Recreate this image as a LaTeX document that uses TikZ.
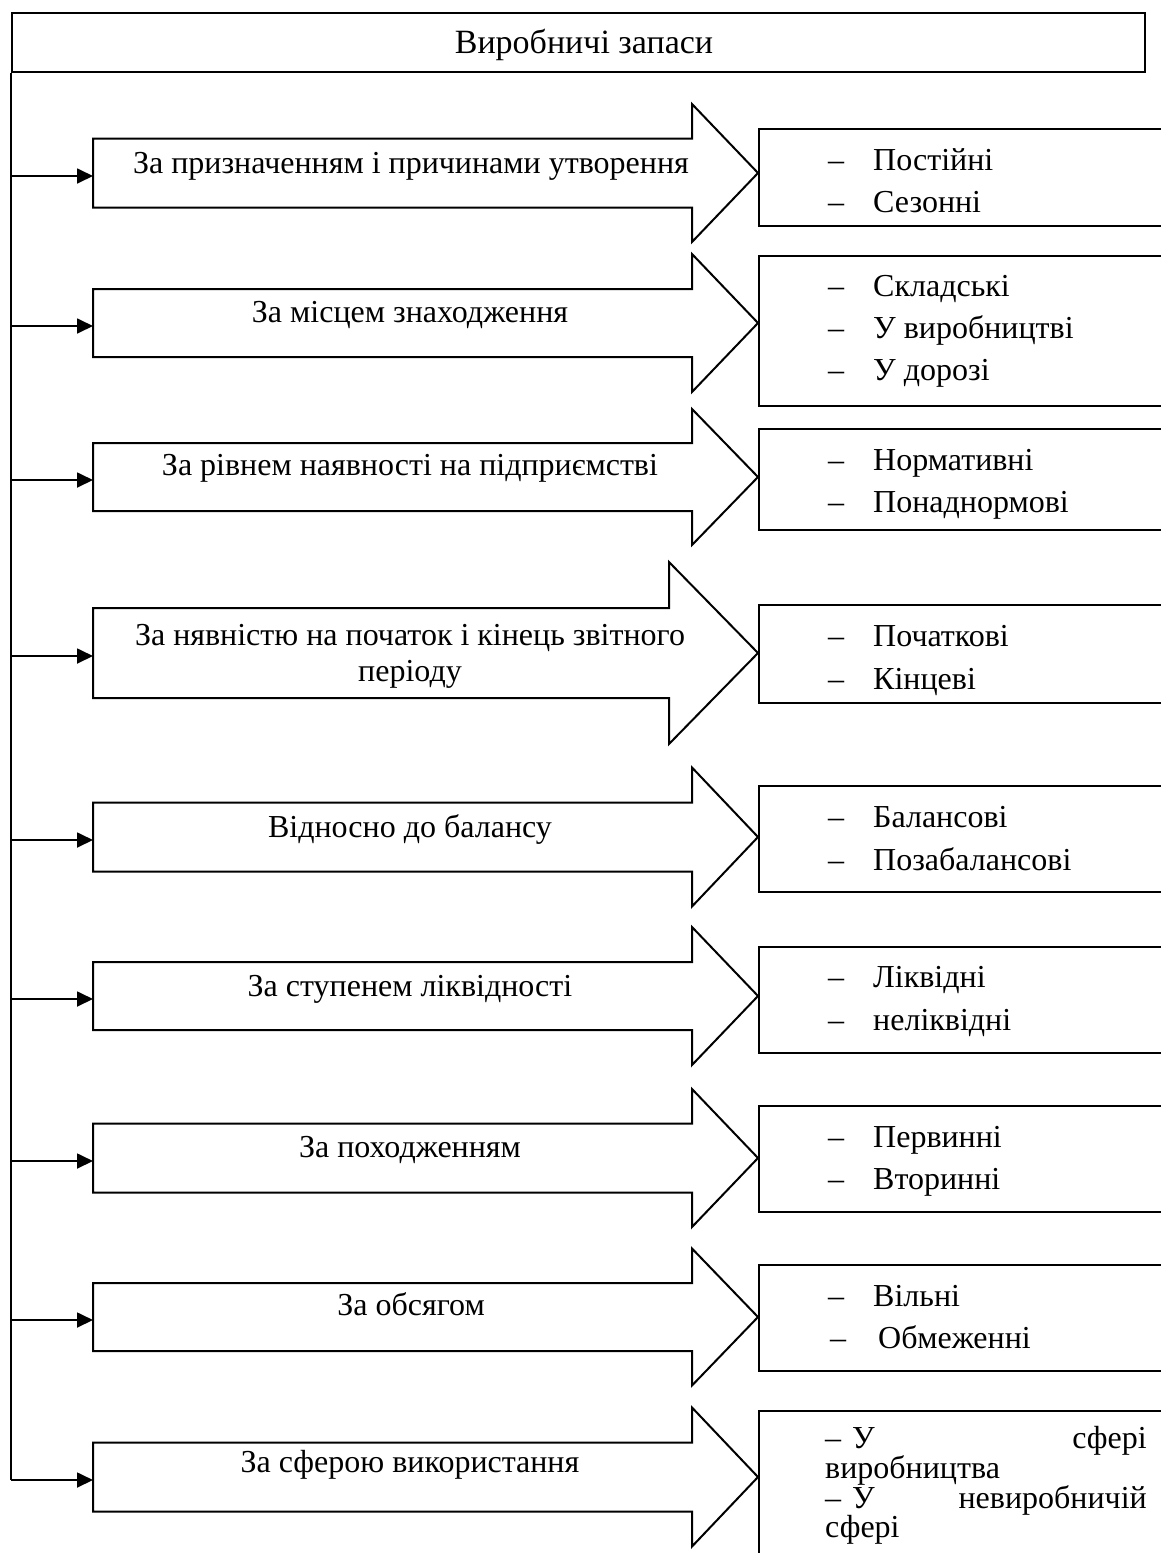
\documentclass[tikz,border=0pt]{standalone}
\usepackage{fontspec}
\setmainfont{Liberation Serif}
\usetikzlibrary{arrows.meta}
\newcommand\blockarrow[5]{% name, tip y, body half, head half, head x
  \draw[box] (93,#2-#3) -- (#5,#2-#3) -- (#5,#2-#4) -- (758,#2) -- (#5,#2+#4) -- (#5,#2+#3) -- (93,#2+#3) -- cycle;
  \coordinate (#1) at (93,#2+3);
  \coordinate (#1t) at (11,#2+3);
}
\begin{document}
\begin{tikzpicture}[x=1pt,y=-1pt,
  box/.style={draw, line width=2pt},
  txt/.style={font=\fontsize{32}{36}\selectfont, inner sep=0pt},
  lbl/.style={txt, anchor=base},
  item/.style={txt, anchor=base west},
  tight/.style={text height=22pt, text depth=7pt},
  feed/.style={line width=1.8pt, -{Triangle[length=16pt,width=15pt]}},
  trunk/.style={line width=1.2pt},
  rbox/.style={box, anchor=north west, minimum width=430pt, inner sep=0pt}]
\useasboundingbox (0,0) rectangle (1160,1553);
\fill[white] (0,0) rectangle (1160,1553);

% top box
\node[box, txt, minimum width=1133pt, minimum height=59pt, anchor=north west] (top) at (11,12) {};
\node[lbl, font=\fontsize{34}{38}\selectfont] (toplbl) at (584,53) {Виробничі запаси};

% block arrows
\blockarrow{a1}{173}{34.5}{69}{692}
\blockarrow{a2}{323}{34}{69}{692}
\blockarrow{a3}{477}{34}{68}{692}
\blockarrow{a4}{653}{45}{91}{669}
\blockarrow{a5}{837}{34.5}{69.5}{692}
\blockarrow{a6}{996}{34}{69}{692}
\blockarrow{a7}{1158}{34.5}{69}{692}
\blockarrow{a8}{1317}{34}{68.5}{692}
\blockarrow{a9}{1477}{34.5}{69.5}{692}

% trunk and feeders
\draw[trunk] (top.south west) -- (a9t);
\foreach \k in {1,...,9}{\draw[feed] (a\k t) -- (a\k);}

% arrow labels
\node[lbl] (l1) at (411,173) {За призначенням і причинами утворення};
\node[lbl] (l2) at (410,322) {За місцем знаходження};
\node[lbl] (l3) at (410,475) {За рівнем наявності на підприємстві};
\node[lbl] (l4a) at (410,645) {За нявністю на початок і кінець звітного};
\node[lbl] (l4b) at (410,681) {періоду};
\node[lbl] (l5) at (410,837) {Відносно до балансу};
\node[lbl] (l6) at (410,996) {За ступенем ліквідності};
\node[lbl] (l7) at (410,1157) {За походженням};
\node[lbl] (l8) at (411,1315) {За обсягом};
\node[lbl] (l9) at (410,1472) {За сферою використання};

% right boxes
\node[rbox, minimum height=97pt] (r1) at (758,128) {};
\node[rbox, minimum height=150pt] (r2) at (758,255) {};
\node[rbox, minimum height=101pt] (r3) at (758,428) {};
\node[rbox, minimum height=98pt] (r4) at (758,604) {};
\node[rbox, minimum height=106pt] (r5) at (758,785) {};
\node[rbox, minimum height=106pt] (r6) at (758,946) {};
\node[rbox, minimum height=106pt] (r7) at (758,1105) {};
\node[rbox, minimum height=106pt] (r8) at (758,1264) {};
\node[rbox, minimum height=160pt] (r9) at (758,1410) {};

% items
\foreach \y/\t [count=\i] in {170/Постійні, 212/Сезонні,
  296/Складські, 338/У виробництві, 380/У дорозі,
  470/Нормативні, 512/Понаднормові,
  646/Початкові, 689/Кінцеві,
  827/Балансові, 870/Позабалансові,
  987/Ліквідні, 1030/неліквідні,
  1147/Первинні, 1189/Вторинні,
  1306/Вільні}{
  \node[item] (d\i) at (828,\y) {–};
  \node[item] (t\i) at (873,\y) {\t};
}
\node[item] (d17) at (830,1348) {–};
\node[item] (t17) at (878,1348) {Обмеженні};

% last box, justified text
\node[item, tight] (e1) at (825,1448) {–};
\node[item, tight] (e2) at (852,1448) {У};
\node[txt, tight, anchor=base east] (e3) at (1147,1448) {сфері};
\node[item, tight] (e4) at (825,1478) {виробництва};
\node[item, tight] (e5) at (825,1508) {–};
\node[item, tight] (e6) at (852,1508) {У};
\node[txt, tight, anchor=base east] (e7) at (1147,1508) {невиробничій};
\node[item, tight] (e8) at (825,1537) {сфері};
\end{tikzpicture}
\end{document}
